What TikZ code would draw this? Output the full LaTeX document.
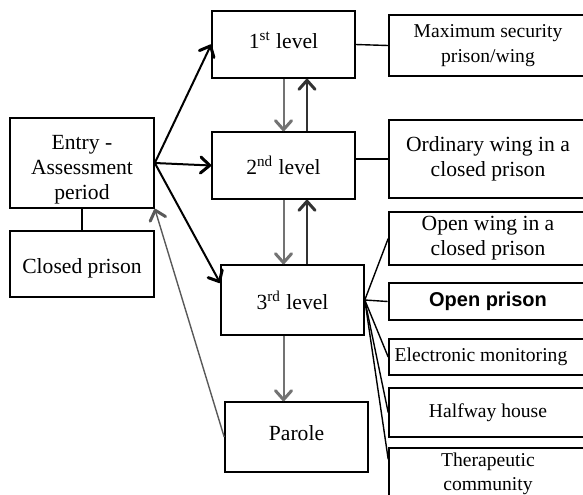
\documentclass[tikz,border=0pt]{standalone}
\usepackage{fontspec}
\setmainfont{Liberation Serif}
\setsansfont{Liberation Sans}
\usetikzlibrary{arrows.meta}
\begin{document}
\begin{tikzpicture}[x=0.5pt,y=-0.5pt,
    font=\fontsize{10.8}{12.5}\selectfont,
    >={Straight Barb[length=4.5pt,width=8pt,line width=1.5pt,round]},
    box/.style={draw,line width=0.8pt,minimum width=71.5pt,minimum height=33.5pt,align=center,inner sep=1pt},
    side/.style={box,minimum width=99pt},
    small/.style={font=\fontsize{9.8}{12.2}\selectfont},
    link/.style={line width=1pt},
    godown/.style={line width=1pt,draw=black!55},
    goup/.style={line width=1pt,draw=black!80},
    goback/.style={line width=0.7pt,draw=black!65},
    tie/.style={line width=0.7pt}]
  \useasboundingbox (0,0) rectangle (583,494);
  \clip (0,0) rectangle (583,494);
  \node[box] (lv1) at (283.5,44.5) {\raisebox{2pt}[\height][\depth]{1\textsuperscript{st} level}};
  \node[box] (lv2) at (283.5,165.5) {2\textsuperscript{nd} level};
  \node[box,minimum height=35pt] (lv3) at (292.5,300) {3\textsuperscript{rd} level};
  \node[box,minimum height=35pt] (parole) at (296.5,437) {\raisebox{2pt}[\height][\depth]{Parole}};
  \node[box,minimum width=72pt,minimum height=45pt] (entry) at (82,163) {\raisebox{-3pt}[\height][\depth]{\begin{tabular}{@{}c@{}}Entry -\\Assessment\\period\end{tabular}}};
  \node[box,minimum width=72pt,minimum height=33pt] (closed) at (82,264) {\raisebox{-2pt}[\height][\depth]{Closed prison}};
  \node[side,small,minimum height=30.5pt] (maxsec) at (488,45.5) {Maximum security\\prison/wing};
  \node[side,minimum height=39pt] (ordwing) at (488,159) {Ordinary wing in a\\closed prison};
  \node[side,minimum height=26.5pt] (openwing) at (488,238.5) {Open wing in a\\closed prison};
  \node[side,minimum height=18.5pt,line width=1.3pt,font=\sffamily\bfseries\fontsize{10}{12}\selectfont] (openpr) at (488,301.5) {Open prison};
  \node[side,small,minimum height=18pt] (elec) at (488,357) {Electronic monitoring\hspace*{7pt}};
  \node[side,small,minimum height=24.5pt] (halfway) at (488,412.5) {Halfway house};
  \node[side,small,minimum height=26pt] (thera) at (488,474) {Therapeutic\\community};
  \coordinate (dn) at (283.5,0);
  \coordinate (up) at (307,0);
  \draw[link,->] (entry.east) -- (lv1.west);
  \draw[link,->] (entry.east) -- (lv2.west);
  \draw[link,->] (entry.east) -- ([yshift=8.5pt]lv3.west);
  \draw[godown,->] (dn |- lv1.south) -- (dn |- lv2.north);
  \draw[goup,->] (up |- lv2.north) -- (up |- lv1.south);
  \draw[godown,->] (dn |- lv2.south) -- (dn |- lv3.north);
  \draw[goup,->] (up |- lv3.north) -- (up |- lv2.south);
  \draw[godown,->] (dn |- lv3.south) -- (dn |- parole.north);
  \draw[goback,->] (parole.west) -- (entry.south east);
  \draw[tie] (entry.south) -- (closed.north);
  \draw[tie] (lv1.east) -- (maxsec.west);
  \draw[tie] (ordwing.west -| lv2.east) -- (ordwing.west);
  \foreach \t in {openwing,openpr,elec,halfway}
    \draw[tie] (lv3.east) -- (\t.west);
  \draw[tie] (lv3.east) -- ([yshift=-6pt]thera.north west);
\end{tikzpicture}
\end{document}
